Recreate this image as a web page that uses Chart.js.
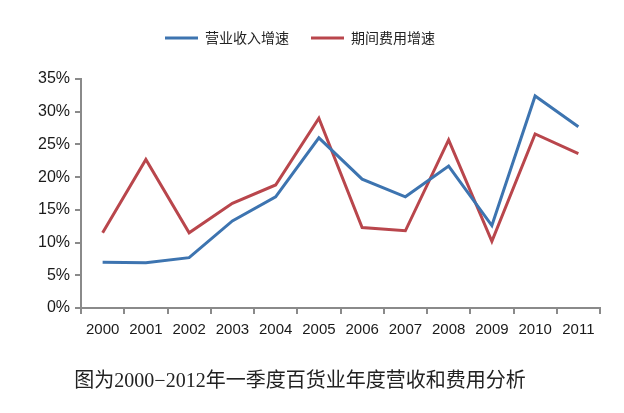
<!DOCTYPE html>
<html><head><meta charset="utf-8">
<script src="https://cdn.jsdelivr.net/npm/chart.js@4"></script>
<style>html,body{margin:0;padding:0;background:#fff;}#wrap{width:624px;height:413px;}</style>
</head><body><div id="wrap"><canvas id="c" width="624" height="413"></canvas></div>
<script>
const years = ['2000','2001','2002','2003','2004','2005','2006','2007','2008','2009','2010','2011'];
const revenueGrowth = [7.0, 6.9, 7.7, 13.3, 17.0, 26.0, 19.7, 17.0, 21.7, 12.6, 32.4, 27.7];
const expenseGrowth = [11.5, 22.7, 11.5, 16.0, 18.8, 29.0, 12.3, 11.8, 25.7, 10.2, 26.6, 23.6];
const seriesNames = ['营业收入增速', '期间费用增速'];
const yTicks = [0, 5, 10, 15, 20, 25, 30, 35];
const caption = '图为2000−2012年一季度百货业年度营收和费用分析';

const axisColor = '#8a8a8a';
new Chart(document.getElementById('c'), {
  type: 'line',
  data: {
    labels: years,
    datasets: [
      {label: seriesNames[0], data: revenueGrowth, borderColor: '#3d74b0', backgroundColor: '#3d74b0', borderWidth: 3, pointRadius: 0, tension: 0},
      {label: seriesNames[1], data: expenseGrowth, borderColor: '#b9464c', backgroundColor: '#b9464c', borderWidth: 3, pointRadius: 0, tension: 0}
    ]
  },
  options: {
    responsive: false,
    animation: false,
    layout: {padding: {left: 0, right: 24, top: 9, bottom: 19}},
    plugins: {
      legend: {
        position: 'top',
        labels: {
          usePointStyle: true, pointStyle: 'line', pointStyleWidth: 33, boxWidth: 33,
          font: {family: '"Noto Sans CJK SC"', size: 14}, color: '#222', padding: 22
        }
      },
      subtitle: {
        display: true, position: 'top', weight: 500, text: ' ',
        font: {size: 1, lineHeight: 1}, padding: {top: 0, bottom: 23}
      },
      title: {
        display: true, position: 'bottom', text: caption,
        font: {family: '"Liberation Serif", "Noto Sans CJK SC"', size: 20, weight: 'normal'},
        color: '#222', padding: {top: 0, bottom: 0}
      },
      tooltip: {enabled: false}
    },
    scales: {
      x: {
        offset: true,
        grid: {display: true, drawOnChartArea: false, drawTicks: true, tickLength: 6, offset: true, color: axisColor, lineWidth: 2},
        border: {display: true, color: axisColor, width: 2},
        ticks: {font: {family: '"Liberation Sans", Arial', size: 15}, color: '#1a1a1a', maxRotation: 0, padding: 7},
        afterFit: s => { s.height = 62; }
      },
      y: {
        min: 0, max: 35,
        afterBuildTicks: s => { s.ticks = yTicks.map(v => ({value: v})); },
        grid: {display: true, drawOnChartArea: false, drawTicks: true, tickLength: 6, color: axisColor, lineWidth: 2},
        border: {display: true, color: axisColor, width: 2},
        ticks: {font: {family: '"Liberation Sans", Arial', size: 16}, color: '#1a1a1a', padding: 5, callback: v => v + '%'},
        afterFit: s => { s.width = 81; }
      }
    }
  }
});
</script></body></html>
